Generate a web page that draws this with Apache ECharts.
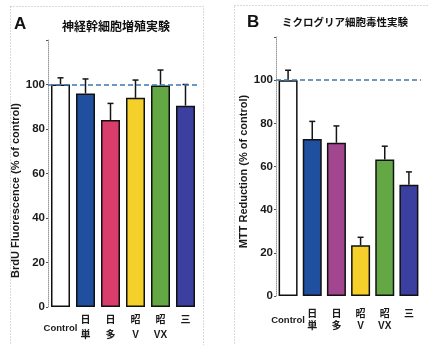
<!DOCTYPE html>
<html>
<head>
<meta charset="utf-8">
<script src="https://cdn.jsdelivr.net/npm/echarts@6/dist/echarts.min.js"></script>
<style>
  html, body { margin: 0; padding: 0; background: #fff; }
  #chart { width: 429px; height: 345px; }
</style>
</head>
<body>
<div id="chart"></div>
<script>
// Groups shared by both panels
const categories = ['Control', '日\n単', '日\n多', '昭\nV', '昭\nVX', '三'];

// Panel A: neural stem cell proliferation (BrdU, % of control)
const prolifValues = [100, 96, 84, 94, 99.5, 90.5];
const prolifErrors = [3, 6.5, 7.5, 8, 7, 9.5];
const prolifColors = ['#ffffff', '#1f4f9e', '#d93d6b', '#f5d02b', '#64a846', '#3b3f9f'];

// Panel B: microglia cytotoxicity (MTT reduction, % of control)
const mttValues = [100, 72.7, 71, 23.5, 63.3, 51.5];
const mttErrors = [4.6, 8.2, 7.8, 3.7, 6.1, 6];
const mttColors = ['#ffffff', '#1f4f9e', '#a2468f', '#f5d02b', '#64a846', '#3b3f9f'];

const yTicks = [0, 20, 40, 60, 80, 100];

const latin = '"Liberation Sans Narrow", "Liberation Sans", "Noto Sans CJK JP", sans-serif';
const cjk = '"Noto Sans CJK JP", sans-serif';

function errorBar(params, api) {
  const v = api.value(1), e = api.value(2);
  const base = api.coord([api.value(0), v]);
  const top = api.coord([api.value(0), v + e]);
  const st = { stroke: '#151515', lineWidth: 1.5 };
  return {
    type: 'group',
    children: [
      { type: 'line', shape: { x1: base[0], y1: base[1], x2: top[0], y2: top[1] }, style: st },
      { type: 'line', shape: { x1: top[0] - 3, y1: top[1], x2: top[0] + 3, y2: top[1] }, style: st }
    ]
  };
}

function xAxisFor(gridIndex, margin, lineHeight) {
  return {
    type: 'category', gridIndex, data: categories,
    axisLine: { show: false }, axisTick: { show: false },
    axisLabel: {
      interval: 0, margin, verticalAlign: 'middle', lineHeight,
      fontFamily: latin, fontWeight: 'bold', fontSize: 10, color: '#1a1a1a',
      formatter: v => (v === '三' ? '三\n ' : v === 'Control' ? '{c|Control}' : v),
      rich: { c: { fontFamily: latin, fontWeight: 'bold', fontSize: 9.5, color: '#1a1a1a' } }
    }
  };
}

function yAxisFor(gridIndex, name, padRight) {
  return {
    type: 'value', gridIndex, min: 0, max: 120, interval: 20,
    name, nameLocation: 'middle', nameRotate: 90, nameGap: 22,
    nameTextStyle: { fontFamily: latin, fontSize: 11, fontWeight: 'bold', color: '#1a1a1a', padding: [0, padRight, 0, 0] },
    splitLine: { show: false },
    axisLine: { show: true, lineStyle: { color: '#9a9a9a', type: 'dotted', width: 1 } },
    axisTick: { show: true, length: 2, lineStyle: { color: '#555' } },
    axisLabel: {
      margin: 3, fontFamily: latin, fontSize: 11.5, fontWeight: 'bold', color: '#1a1a1a',
      formatter: v => (yTicks.indexOf(v) >= 0 ? String(v) : '')
    }
  };
}

function barsFor(idx, values, colors) {
  return {
    type: 'bar', xAxisIndex: idx, yAxisIndex: idx, barWidth: 19,
    data: values.map((v, i) => ({ value: v, itemStyle: { color: colors[i] } })),
    itemStyle: { borderColor: '#111', borderWidth: 1.5 },
    markLine: {
      silent: true, symbol: 'none', label: { show: false },
      lineStyle: { color: '#3b78ad', type: [5, 3], width: 1.5 },
      data: [{ yAxis: 100 }]
    },
    z: 2
  };
}

function errorsFor(idx, values, errors) {
  return {
    type: 'custom', xAxisIndex: idx, yAxisIndex: idx,
    renderItem: errorBar, encode: { x: 0, y: 1 },
    data: values.map((v, i) => [i, v, errors[i]]), z: 3
  };
}

const chart = echarts.init(document.getElementById('chart'), null, { renderer: 'canvas' });
chart.setOption({
  animation: false,
  backgroundColor: '#ffffff',
  title: [
    { text: 'A', left: 14, top: 16, padding: 0, textStyle: { fontFamily: latin, fontSize: 17, fontWeight: 'bold', color: '#111' } },
    { text: '神経幹細胞増殖実験', left: 62, top: 20, padding: 0, textStyle: { fontFamily: cjk, fontSize: 12, fontWeight: 'bold', color: '#111' } },
    { text: 'B', left: 247, top: 14, padding: 0, textStyle: { fontFamily: latin, fontSize: 17, fontWeight: 'bold', color: '#111' } },
    { text: 'ミクログリア細胞毒性実験', left: 282, top: 17, padding: 0, textStyle: { fontFamily: cjk, fontSize: 10.5, fontWeight: 'bold', color: '#111' } }
  ],
  graphic: [
    { type: 'rect', shape: { x: 10.5, y: 6.5, width: 193, height: 400 }, style: { fill: 'none', stroke: '#b5b5b5', lineWidth: 1, lineDash: [1, 2] }, silent: true },
    { type: 'rect', shape: { x: 234.5, y: 5.5, width: 300, height: 400 }, style: { fill: 'none', stroke: '#b5b5b5', lineWidth: 1, lineDash: [1, 2] }, silent: true }
  ],
  grid: [
    { left: 48, right: 231, top: 40, bottom: 38 },
    { left: 276, right: 8, top: 37, bottom: 49 }
  ],
  xAxis: [xAxisFor(0, 21, 15), xAxisFor(1, 24, 12)],
  yAxis: [
    yAxisFor(0, 'BrdU Fluorescence (% of control)', 34),
    yAxisFor(1, 'MTT Reduction (% of control)', 10)
  ],
  series: [
    barsFor(0, prolifValues, prolifColors),
    errorsFor(0, prolifValues, prolifErrors),
    barsFor(1, mttValues, mttColors),
    errorsFor(1, mttValues, mttErrors)
  ]
});
</script>
</body>
</html>
